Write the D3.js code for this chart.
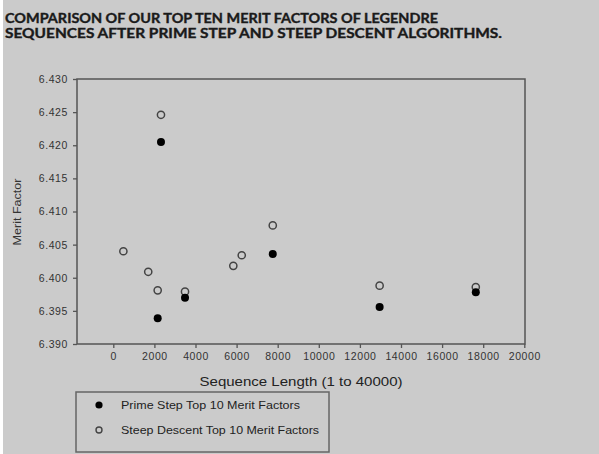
<!DOCTYPE html>
<meta charset="utf-8">
<style>
body { margin: 0; background: #fff; }
svg { display: block; }
text { font-family: "Liberation Sans", Arial, sans-serif; }
</style>
<svg width="599" height="454"></svg>
<script src="https://cdn.jsdelivr.net/npm/d3@7"></script>
<script>
// values
var titleLines = ["COMPARISON OF OUR TOP TEN MERIT FACTORS OF LEGENDRE",
                  "SEQUENCES AFTER  PRIME STEP AND STEEP DESCENT ALGORITHMS."];
var primeLen   = [2320, 2160, 3490, 7760, 12960, 17640];
var primeMerit = [6.4205, 6.3939, 6.3970, 6.4036, 6.3956, 6.3978];
var steepLen   = [2320, 490, 1700, 2160, 3490, 5840, 6250, 7760, 12960, 17640];
var steepMerit = [6.4246, 6.4040, 6.4009, 6.3981, 6.3979, 6.4018, 6.4034, 6.4079, 6.3988, 6.3986];
var xTicks = [0, 2000, 4000, 6000, 8000, 10000, 12000, 14000, 16000, 18000, 20000];
var yTicks = [6.390, 6.395, 6.400, 6.405, 6.410, 6.415, 6.420, 6.425, 6.430];
var legendLabels = ["Prime Step Top 10 Merit Factors", "Steep Descent Top 10 Merit Factors"];

var svg = d3.select("svg");
var frameColor = "#555";

// gray page with thin lighter strip at left
svg.append("rect").attr("x", 3).attr("y", 0).attr("width", 596).attr("height", 454).attr("fill", "#cbcbcb");

// title (two tight lines, slightly emboldened)
svg.append("g").selectAll("text").data(titleLines).enter().append("text")
  .attr("x", 5).attr("y", function (d, i) { return 22.5 + i * 15; })
  .attr("textLength", function (d, i) { return i === 0 ? 433 : 497; })
  .attr("lengthAdjust", "spacingAndGlyphs")
  .style("font-family", "Lato, 'Open Sans', sans-serif")
  .style("font-weight", "bold").style("font-size", "12.5px")
  .attr("fill", "#1a1a1a").attr("stroke", "#1a1a1a").attr("stroke-width", 0.35)
  .text(function (d) { return d; });

var plotL = 77, plotR = 525, plotT = 79, plotB = 344;
var x = d3.scaleLinear().domain([0, 20000]).range([113.3, 524.3]);
var y = d3.scaleLinear().domain([6.39, 6.43]).range([plotB, plotT]);

// frame
svg.append("rect").attr("x", plotL).attr("y", plotT).attr("width", plotR - plotL).attr("height", plotB - plotT)
  .attr("fill", "none").attr("stroke", frameColor).attr("stroke-width", 1.5);

var xAxis = svg.append("g").attr("transform", "translate(0," + plotB + ")")
  .call(d3.axisBottom(x).tickValues(xTicks).tickSize(4).tickPadding(5).tickFormat(d3.format("d")));
var yAxis = svg.append("g").attr("transform", "translate(" + plotL + ",0)")
  .call(d3.axisLeft(y).tickValues(yTicks).tickSize(4).tickPadding(5).tickFormat(d3.format(".3f")));
[xAxis, yAxis].forEach(function (a) {
  a.select(".domain").remove();
  a.selectAll(".tick line").attr("stroke", frameColor).attr("stroke-width", 1.3);
  a.selectAll(".tick text").attr("fill", "#333").style("font-family", "'Liberation Sans', Arial, sans-serif")
    .style("font-size", "10.5px").style("letter-spacing", "0.6px");
});

// axis titles
svg.append("text").attr("x", 301).attr("y", 386).attr("text-anchor", "middle")
  .attr("textLength", 203).attr("lengthAdjust", "spacingAndGlyphs")
  .style("font-size", "12.5px").attr("fill", "#222").text("Sequence Length (1 to 40000)");
svg.append("text").attr("transform", "translate(21,212) rotate(-90)").attr("text-anchor", "middle")
  .attr("textLength", 67).attr("lengthAdjust", "spacingAndGlyphs")
  .style("font-size", "11px").attr("fill", "#333").text("Merit Factor");

// points
var steep = d3.zip(steepLen, steepMerit);
var prime = d3.zip(primeLen, primeMerit);
svg.append("g").selectAll("circle").data(steep).enter().append("circle")
  .attr("cx", function (d) { return x(d[0]); }).attr("cy", function (d) { return y(d[1]); })
  .attr("r", 3.6).attr("fill", "none").attr("stroke", "#444").attr("stroke-width", 1.5);
svg.append("g").selectAll("circle").data(prime).enter().append("circle")
  .attr("cx", function (d) { return x(d[0]); }).attr("cy", function (d) { return y(d[1]); })
  .attr("r", 4).attr("fill", "#000");

// legend
var leg = svg.append("g");
leg.append("rect").attr("x", 76).attr("y", 392).attr("width", 253).attr("height", 60)
  .attr("fill", "none").attr("stroke", "#666").attr("stroke-width", 1.5);
leg.selectAll("circle").data(legendLabels).enter().append("circle")
  .attr("cx", 99).attr("cy", function (d, i) { return 405 + i * 25; })
  .attr("r", function (d, i) { return i === 0 ? 3.6 : 3; })
  .attr("fill", function (d, i) { return i === 0 ? "#000" : "none"; })
  .attr("stroke", function (d, i) { return i === 0 ? "none" : "#444"; }).attr("stroke-width", 1.4);
leg.selectAll("text").data(legendLabels).enter().append("text")
  .attr("x", 121).attr("y", function (d, i) { return 409 + i * 25; })
  .attr("textLength", function (d, i) { return i === 0 ? 179 : 198; })
  .attr("lengthAdjust", "spacingAndGlyphs")
  .style("font-size", "10.5px").attr("fill", "#222").text(function (d) { return d; });
</script>
